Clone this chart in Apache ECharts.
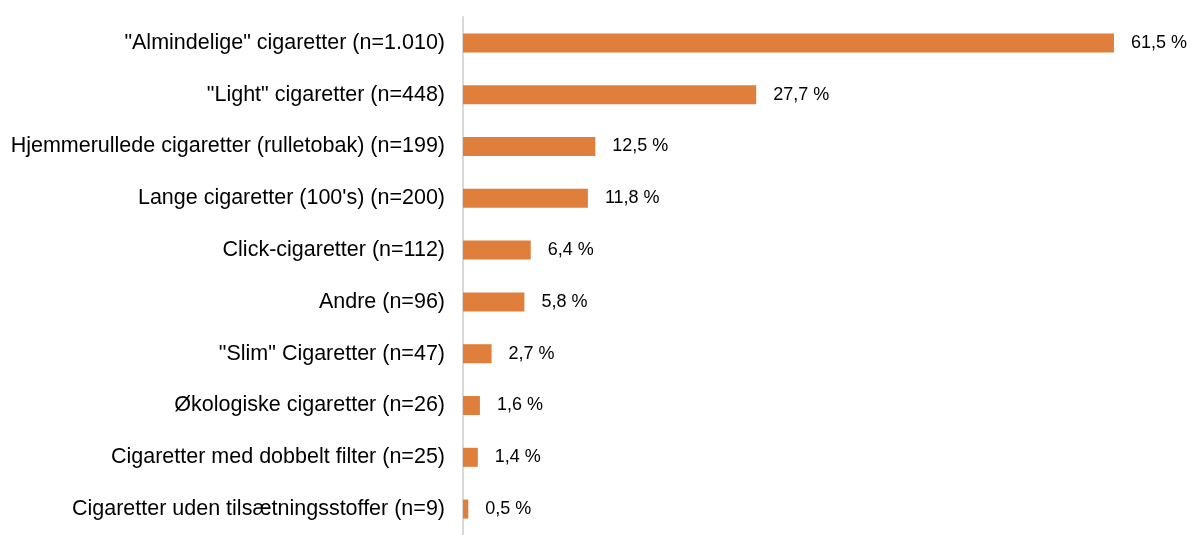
<!DOCTYPE html>
<html>
<head>
<meta charset="utf-8">
<script src="https://cdn.jsdelivr.net/npm/echarts@6/dist/echarts.min.js"></script>
<style>
  html, body { margin: 0; padding: 0; background: #fff; }
  #chart { width: 1191px; height: 535px; }
</style>
</head>
<body>
<div id="chart"></div>
<script>
// Cigarettype-fordeling — vandrette søjler, største øverst.
const categories = [
  "\"Almindelige\" cigaretter (n=1.010)",
  "\"Light\" cigaretter (n=448)",
  "Hjemmerullede cigaretter (rulletobak) (n=199)",
  "Lange cigaretter (100's) (n=200)",
  "Click-cigaretter (n=112)",
  "Andre (n=96)",
  "\"Slim\" Cigaretter (n=47)",
  "Økologiske cigaretter (n=26)",
  "Cigaretter med dobbelt filter (n=25)",
  "Cigaretter uden tilsætningsstoffer (n=9)"
];
const shares = [61.5, 27.7, 12.5, 11.8, 6.4, 5.8, 2.7, 1.6, 1.4, 0.5];

const chart = echarts.init(document.getElementById("chart"));
const pctLabel = (v) => v.toFixed(1).replace(".", ",") + " %";

chart.setOption({
  animation: false,
  grid: { left: 463, top: 17, width: 688, height: 527, containLabel: false },
  xAxis: {
    type: "value", min: 0, max: 65,
    show: false
  },
  yAxis: {
    type: "category",
    inverse: true,
    data: categories,
    axisTick: { show: false },
    axisLine: { show: true, lineStyle: { color: "#d9d9d9", width: 2 } },
    axisLabel: {
      color: "#000", fontFamily: "Liberation Sans, Arial, sans-serif",
      fontSize: 21.5, margin: 18
    }
  },
  series: [{
    type: "bar",
    data: shares,
    barWidth: 19,
    itemStyle: { color: "#E07E3C" },
    label: {
      show: true, position: "right", distance: 17,
      color: "#000", fontFamily: "Liberation Sans, Arial, sans-serif", fontSize: 18,
      formatter: (p) => pctLabel(p.value)
    }
  }]
});
</script>
</body>
</html>
